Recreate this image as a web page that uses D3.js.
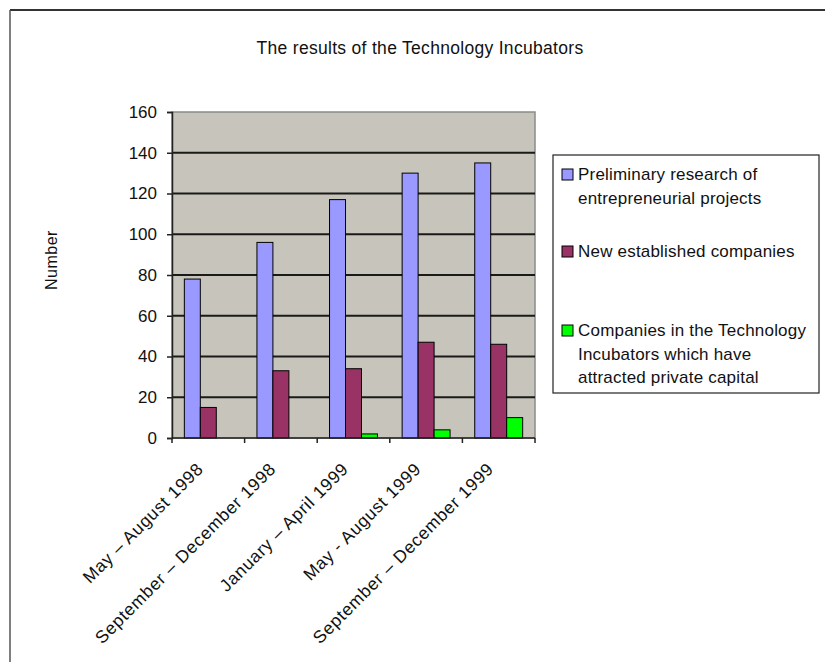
<!DOCTYPE html>
<html>
<head>
<meta charset="utf-8">
<script src="https://cdn.jsdelivr.net/npm/d3@7"></script>
<style>
  body { margin: 0; background: #fff; }
  text { font-family: "Liberation Sans", Arial, sans-serif; fill: #111; }
</style>
</head>
<body>
<div id="chart"></div>
<script>
'use strict';

var periods = ['May \u2013 August 1998', 'September \u2013 December 1998', 'January \u2013 April 1999', 'May - August 1999', 'September \u2013 December 1999'];
var seriesNames = ['Preliminary research of entrepreneurial projects', 'New established companies', 'Companies in the Technology Incubators which have attracted private capital'];
var legendLines = [['Preliminary research of', 'entrepreneurial projects'], ['New established companies'], ['Companies in the Technology', 'Incubators which have', 'attracted private capital']];
var preliminary = [78, 96, 117, 130, 135];
var established = [15, 33, 34, 47, 46];
var privateCapital = [0, 0, 2, 4, 10];
var yTicks = [0, 20, 40, 60, 80, 100, 120, 140, 160];
var colors = ['#9999ff', '#993366', '#00ff00'];

var width = 825, height = 662;
var plot = {left: 172, right: 535, top: 112, bottom: 438};

var svg = d3.select('#chart').append('svg')
    .attr('width', width)
    .attr('height', height);

// sheet frame (top and left edges)
svg.append('line').attr('x1', 10).attr('x2', width).attr('y1', 10).attr('y2', 10)
    .style('stroke', '#333').style('stroke-width', 2);
svg.append('line').attr('x1', 10).attr('x2', 10).attr('y1', 10).attr('y2', height)
    .style('stroke', '#555').style('stroke-width', 1.5);

svg.append('text')
    .attr('x', 420).attr('y', 54)
    .attr('text-anchor', 'middle')
    .style('font-size', '17.5px')
    .style('letter-spacing', '0.3px')
    .text('The results of the Technology Incubators');

var x0 = d3.scaleBand().domain(periods).range([plot.left, plot.right]).padding(0);
var x1 = d3.scaleBand().domain(d3.range(seriesNames.length))
    .range([x0.bandwidth() * 0.17, x0.bandwidth() * 0.83]).padding(0);
var y = d3.scaleLinear().domain([0, 160]).range([plot.bottom, plot.top]);

// plot area background
svg.append('rect')
    .attr('x', plot.left).attr('y', plot.top)
    .attr('width', plot.right - plot.left).attr('height', plot.bottom - plot.top)
    .style('fill', '#c7c5bb')
    .style('stroke', '#8a8a8a').style('stroke-width', 1.5);

// gridlines
svg.append('g').selectAll('line')
    .data(yTicks.filter(function (d) { return d > 0 && d < 160; }))
    .enter().append('line')
    .attr('x1', plot.left).attr('x2', plot.right)
    .attr('y1', function (d) { return y(d); })
    .attr('y2', function (d) { return y(d); })
    .style('stroke', '#1a1a1a').style('stroke-width', 1.8);

var data = [preliminary, established, privateCapital];
var groups = svg.append('g').selectAll('g')
    .data(periods)
    .enter().append('g')
    .attr('transform', function (d) { return 'translate(' + x0(d) + ',0)'; });

groups.selectAll('rect')
    .data(function (d, i) { return data.map(function (s, k) { return {k: k, v: s[i]}; }); })
    .enter().append('rect')
    .filter(function (d) { return d.v > 0; })
    .attr('x', function (d) { return x1(d.k); })
    .attr('width', x1.bandwidth())
    .attr('y', function (d) { return y(d.v); })
    .attr('height', function (d) { return y(0) - y(d.v); })
    .style('fill', function (d) { return colors[d.k]; })
    .style('stroke', '#000').style('stroke-width', 1);

// y axis
var yAxis = svg.append('g')
    .attr('transform', 'translate(' + plot.left + ',0)')
    .call(d3.axisLeft(y).tickValues(yTicks).tickSize(5).tickPadding(10));
yAxis.select('.domain').style('stroke', '#222').style('stroke-width', 1.5);
yAxis.selectAll('.tick line').style('stroke', '#222').style('stroke-width', 1.5);
yAxis.selectAll('.tick text').style('font-size', '17px').style('font-family', '"Liberation Sans", Arial, sans-serif').style('fill', '#111');

// x axis with ticks on category boundaries
var boundaries = periods.map(function (d) { return x0(d); }).concat([plot.right]);
svg.append('line')
    .attr('x1', plot.left).attr('x2', plot.right)
    .attr('y1', plot.bottom).attr('y2', plot.bottom)
    .style('stroke', '#222').style('stroke-width', 1.5);
svg.append('g').selectAll('line')
    .data(boundaries)
    .enter().append('line')
    .attr('x1', function (d) { return d; }).attr('x2', function (d) { return d; })
    .attr('y1', plot.bottom).attr('y2', plot.bottom + 5)
    .style('stroke', '#222').style('stroke-width', 1.5);

svg.append('g').selectAll('text')
    .data(periods)
    .enter().append('text')
    .attr('text-anchor', 'end')
    .attr('transform', function (d) {
      return 'translate(' + (x0(d) + x0.bandwidth() / 2 - 4) + ',' + (plot.bottom + 32) + ') rotate(-45)';
    })
    .style('font-size', '17.5px')
    .style('letter-spacing', '0.7px')
    .text(function (d) { return d; });

svg.append('text')
    .attr('text-anchor', 'middle')
    .attr('transform', 'translate(57,260) rotate(-90)')
    .style('font-size', '16px')
    .style('letter-spacing', '0.5px')
    .text('Number');

// legend
var legend = svg.append('g');
legend.append('rect')
    .attr('x', 553).attr('y', 155).attr('width', 266).attr('height', 238)
    .style('fill', '#fff').style('stroke', '#222').style('stroke-width', 1.2);

var legendTop = [180, 257, 336];
var lineGap = 23.5;
var entries = legend.selectAll('g.entry')
    .data(seriesNames)
    .enter().append('g')
    .attr('class', 'entry');
entries.append('rect')
    .attr('x', 562).attr('y', function (d, i) { return legendTop[i] - 11; })
    .attr('width', 11).attr('height', 11)
    .style('fill', function (d, i) { return colors[i]; })
    .style('stroke', '#000').style('stroke-width', 1);
entries.each(function (d, i) {
  var t = d3.select(this).append('text')
      .attr('x', 578).attr('y', legendTop[i])
      .style('font-size', '17px')
      .style('letter-spacing', '0.2px');
  legendLines[i].forEach(function (ln, j) {
    t.append('tspan').attr('x', 578).attr('y', legendTop[i] + j * lineGap).text(ln);
  });
});
</script>
</body>
</html>
